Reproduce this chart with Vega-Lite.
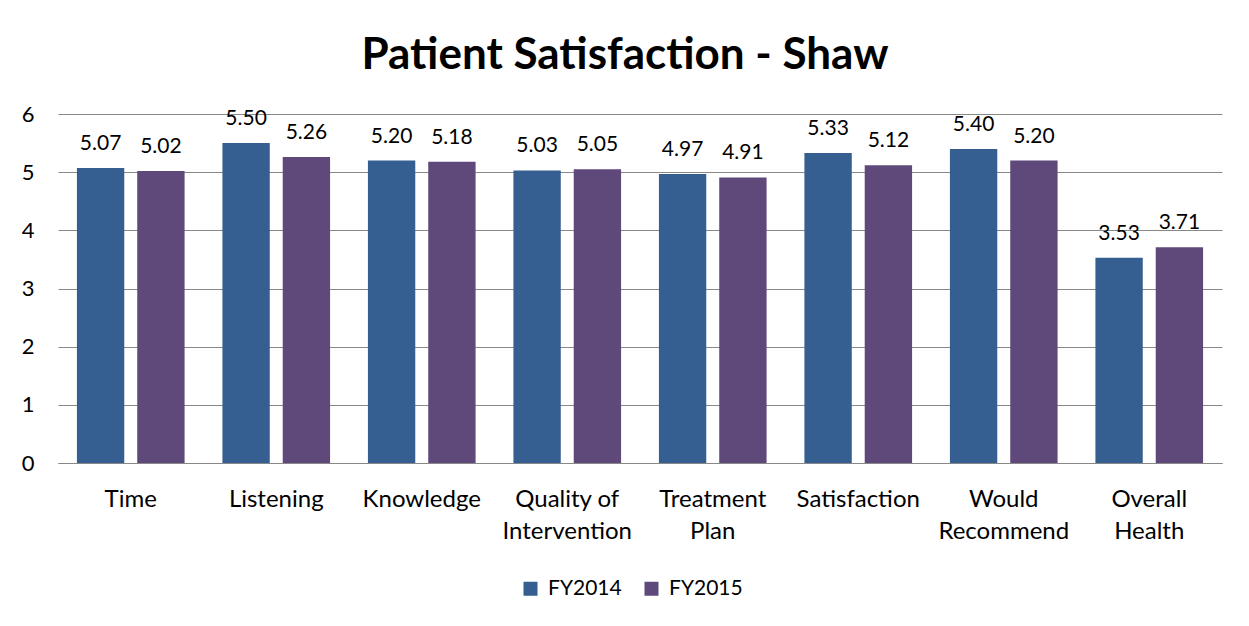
{
  "$schema": "https://vega.github.io/schema/vega-lite/v6.json",
  "autosize": {"type": "none"},
  "width": 1164,
  "height": 349,
  "padding": {"left": 58, "top": 114, "right": 27, "bottom": 163},
  "background": "white",
  "title": {
    "text": "Patient Satisfaction - Shaw",
    "font": "Lato",
    "fontSize": 44,
    "fontWeight": "bold",
    "color": "#000000",
    "anchor": "middle",
    "offset": 25,
    "dx": -15
  },
  "data": {
    "values": [
      {"category": "Time", "year": "FY2014", "value": 5.07},
      {"category": "Time", "year": "FY2015", "value": 5.02},
      {"category": "Listening", "year": "FY2014", "value": 5.50},
      {"category": "Listening", "year": "FY2015", "value": 5.26},
      {"category": "Knowledge", "year": "FY2014", "value": 5.20},
      {"category": "Knowledge", "year": "FY2015", "value": 5.18},
      {"category": "Quality of Intervention", "year": "FY2014", "value": 5.03},
      {"category": "Quality of Intervention", "year": "FY2015", "value": 5.05},
      {"category": "Treatment Plan", "year": "FY2014", "value": 4.97},
      {"category": "Treatment Plan", "year": "FY2015", "value": 4.91},
      {"category": "Satisfaction", "year": "FY2014", "value": 5.33},
      {"category": "Satisfaction", "year": "FY2015", "value": 5.12},
      {"category": "Would Recommend", "year": "FY2014", "value": 5.40},
      {"category": "Would Recommend", "year": "FY2015", "value": 5.20},
      {"category": "Overall Health", "year": "FY2014", "value": 3.53},
      {"category": "Overall Health", "year": "FY2015", "value": 3.71}
    ]
  },
  "encoding": {
    "x": {
      "field": "category",
      "type": "nominal",
      "sort": null,
      "scale": {"paddingInner": 0.26, "paddingOuter": 0.13},
      "axis": {
        "title": null,
        "labelAngle": 0,
        "labelFont": "Lato",
        "labelFontSize": 24,
        "labelColor": "#000000",
        "labelPadding": 24,
        "labelLineHeight": 32,
        "ticks": false,
        "domainColor": "#888888",
        "domainWidth": 1,
        "labelExpr": "datum.label == 'Quality of Intervention' ? ['Quality of', 'Intervention'] : datum.label == 'Treatment Plan' ? ['Treatment', 'Plan'] : datum.label == 'Would Recommend' ? ['Would', 'Recommend'] : datum.label == 'Overall Health' ? ['Overall', 'Health'] : datum.label"
      }
    },
    "xOffset": {
      "field": "year",
      "type": "nominal",
      "scale": {"paddingInner": 0.215, "paddingOuter": 0}
    },
    "y": {
      "field": "value",
      "type": "quantitative",
      "scale": {"domain": [0, 6]},
      "axis": {
        "title": null,
        "values": [0, 1, 2, 3, 4, 5, 6],
        "labelFont": "Lato",
        "labelFontSize": 22,
        "labelColor": "#000000",
        "labelPadding": 24,
        "ticks": false,
        "domain": false,
        "gridColor": "#888888",
        "gridWidth": 1
      }
    }
  },
  "layer": [
    {
      "mark": {"type": "bar"},
      "encoding": {
        "color": {
          "field": "year",
          "type": "nominal",
          "scale": {"domain": ["FY2014", "FY2015"], "range": ["#365F91", "#5F497A"]},
          "legend": {
            "title": null,
            "orient": "none",
            "legendX": 462,
            "legendY": 464,
            "padding": 0,
            "direction": "horizontal",
            "labelFont": "Lato",
            "labelFontSize": 21,
            "labelColor": "#000000",
            "symbolType": "square",
            "symbolSize": 196,
            "symbolStrokeWidth": 0,
            "labelOffset": 7,
            "columnPadding": 19
          }
        }
      }
    },
    {
      "mark": {
        "type": "text",
        "baseline": "alphabetic",
        "dy": -18,
        "font": "Lato",
        "fontSize": 21,
        "color": "#000000"
      },
      "encoding": {
        "text": {"field": "value", "type": "quantitative", "format": ".2f"}
      }
    }
  ],
  "config": {
    "view": {"stroke": null}
  }
}
